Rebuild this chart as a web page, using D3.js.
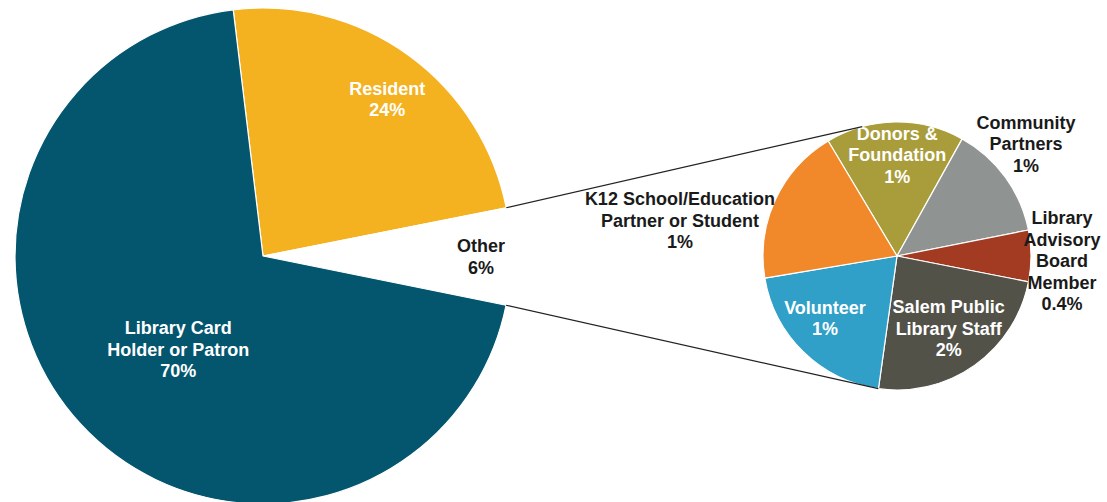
<!DOCTYPE html>
<html>
<head>
<meta charset="utf-8">
<script src="https://cdn.jsdelivr.net/npm/d3@7"></script>
<style>
  html, body { margin: 0; padding: 0; background: #ffffff; }
  svg { display: block; }
  text { font-family: "Liberation Sans", Arial, sans-serif; font-weight: bold; font-size: 18px; }
</style>
</head>
<body>
<svg id="chart" width="1107" height="502"></svg>
<script>
// Main pie: share of respondents by group (percent)
const mainCategories = ["Resident", "Other", "Library Card Holder or Patron"];
const mainValues = [23.8, null, 69.9]; // "Other" is the sum of the breakdown below
const mainLabels = [["Resident", "24%"], ["Other", "6%"], ["Library Card", "Holder or Patron", "70%"]];

// Breakdown of "Other" (percent of all respondents)
const otherCategories = ["Donors & Foundation", "Community Partners", "Library Advisory Board Member",
  "Salem Public Library Staff", "Volunteer", "K12 School/Education Partner or Student"];
const otherValues = [1.05, 0.87, 0.39, 1.52, 1.27, 1.2];
const otherLabels = [["Donors &", "Foundation", "1%"], ["Community", "Partners", "1%"],
  ["Library", "Advisory", "Board", "Member", "0.4%"], ["Salem Public", "Library Staff", "2%"],
  ["Volunteer", "1%"], ["K12 School/Education", "Partner or Student", "1%"]];

const mainColors = ["#F4B120", "#ffffff", "#04566F"];
const otherColors = ["#A99D3B", "#8F9391", "#A33A22", "#525249", "#30A0C8", "#F1892A"];

// layout
const deg = Math.PI / 180;
const main = { cx: 263, cy: 256, r: 248, start: -6.9 * deg };
const sub = { cx: 897, cy: 256, r: 134, start: -30.9 * deg, topAngle: -15 * deg, bottomAngle: 188 * deg };
const lineHeight = 21.5;
// label placement: radius (px) and angular offset (deg) from slice middle; fill colour
const mainLabelPos = [{ r: 200, da: 2.5, fill: "#ffffff" }, { r: 218, da: 0, fill: "#1a1a1a" }, { r: 126, da: -5, fill: "#ffffff" }];
const otherLabelPos = [
  { r: 101, da: 1, fill: "#ffffff" }, { r: 171, da: -5, fill: "#1a1a1a" }, { r: 165, da: 1.7, fill: "#1a1a1a" },
  { r: 89, da: 0, fill: "#ffffff" }, { r: 95, da: 5, fill: "#ffffff" }, { r: 220, da: -15.5, fill: "#1a1a1a" }];

const otherTotal = d3.sum(otherValues);
const mainData = mainValues.map((v, i) => v === null ? otherTotal : v);

const svg = d3.select("#chart");

function polar(c, a, r) { return [c.cx + r * Math.sin(a), c.cy - r * Math.cos(a)]; }

function drawPie(c, values, colors, labels, labelPos) {
  const pie = d3.pie().sort(null).value(d => d).startAngle(c.start).endAngle(c.start + 2 * Math.PI);
  const arcs = pie(values);
  const arc = d3.arc().innerRadius(0).outerRadius(c.r);
  const g = svg.append("g").attr("transform", `translate(${c.cx},${c.cy})`);
  g.selectAll("path").data(arcs).join("path")
    .attr("d", arc)
    .attr("fill", (d, i) => colors[i])
    .attr("stroke", "#ffffff")
    .attr("stroke-width", 1.2)
    .attr("stroke-linejoin", "round");
  arcs.forEach((d, i) => {
    const p = labelPos[i];
    const mid = (d.startAngle + d.endAngle) / 2 + p.da * deg;
    const [x, y] = polar(c, mid, p.r);
    const lines = labels[i];
    const t = svg.append("text").attr("text-anchor", "middle").attr("fill", p.fill);
    lines.forEach((s, k) => {
      t.append("tspan").attr("x", x)
        .attr("y", y + (k - (lines.length - 1) / 2) * lineHeight + 6.4)
        .text(s);
    });
  });
  return arcs;
}

const mainArcs = drawPie(main, mainData, mainColors, mainLabels, mainLabelPos);
drawPie(sub, otherValues, otherColors, otherLabels, otherLabelPos);

// connector lines from the "Other" slice to the breakdown pie
const otherArc = mainArcs[1];
const conn = [
  [polar(main, otherArc.startAngle, main.r), polar(sub, sub.topAngle, sub.r)],
  [polar(main, otherArc.endAngle, main.r), polar(sub, sub.bottomAngle, sub.r)]
];
svg.selectAll("line.conn").data(conn).join("line")
  .attr("class", "conn")
  .attr("x1", d => d[0][0]).attr("y1", d => d[0][1])
  .attr("x2", d => d[1][0]).attr("y2", d => d[1][1])
  .attr("stroke", "#222222").attr("stroke-width", 1.2);
</script>
</body>
</html>
